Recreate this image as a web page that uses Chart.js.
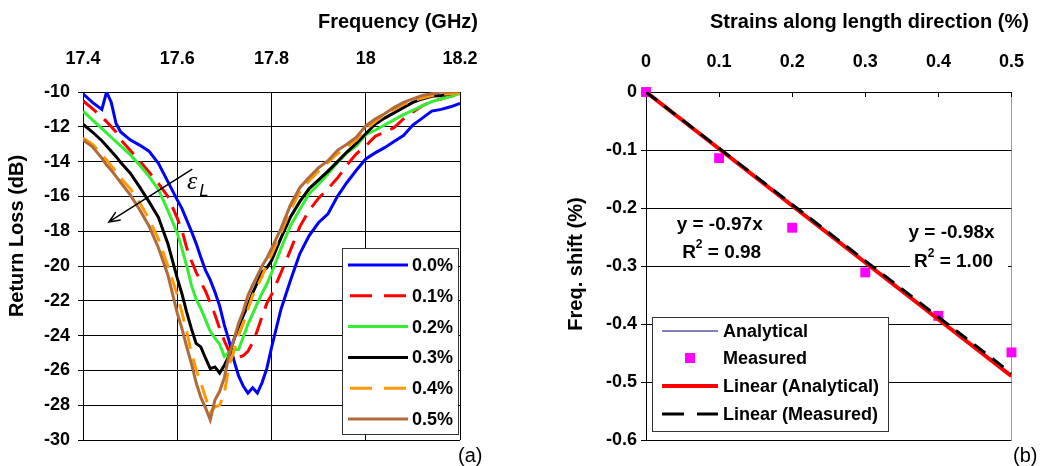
<!DOCTYPE html>
<html>
<head>
<meta charset="utf-8">
<script src="https://cdn.jsdelivr.net/npm/chart.js@4.4.0/dist/chart.umd.min.js"></script>
<style>
  body { margin: 0; background: #fff; }
  #wrap { position: relative; width: 1043px; height: 466px; }
  canvas { position: absolute; left: 0; top: 0; }
</style>
</head>
<body>
<div id="wrap">
  <canvas id="lossChart" width="1043" height="466"></canvas>
  <canvas id="shiftChart" width="1043" height="466"></canvas>
</div>
<script>
// ---- (a) return loss vs frequency ----
const freq = [17.40, 17.42, 17.44, 17.45, 17.46, 17.47, 17.48,
  17.50, 17.52, 17.54, 17.56, 17.58,
  17.60, 17.61, 17.62, 17.63, 17.64, 17.65, 17.66, 17.67, 17.68, 17.69, 17.70,
  17.71, 17.72, 17.73, 17.74, 17.75, 17.76, 17.77, 17.78, 17.79, 17.80,
  17.82, 17.84, 17.86, 17.88, 17.90, 17.92, 17.94, 17.96, 17.98, 18.00,
  18.02, 18.04, 18.06, 18.08, 18.10, 18.12, 18.14, 18.16, 18.18, 18.20];
const freqTicks = [17.4, 17.6, 17.8, 18, 18.2];
const lossTicks = [-30, -28, -26, -24, -22, -20, -18, -16, -14, -12, -10];
const strainLabels = ['0.0%', '0.1%', '0.2%', '0.3%', '0.4%', '0.5%'];

const loss00 = [-10.1, -10.6, -11.0, -10.0, -10.6, -11.8, -12.3,
  -12.75, -13.05, -13.4, -14.1, -15.15,
  -16.2, -16.7, -17.35, -18.0, -18.7, -19.5, -20.25, -20.8, -21.5, -22.3, -23.4,
  -24.3, -25.4, -26.3, -26.9, -27.3, -27.0, -27.3, -26.7, -25.9, -24.7,
  -22.5, -20.85, -19.3, -18.25, -17.5, -17.0, -16.0, -15.2, -14.5, -13.85,
  -13.5, -13.2, -12.85, -12.5, -11.9, -11.5, -11.1, -11.0, -10.85, -10.65];
const loss01 = [-10.5, -10.95, -11.45, -11.7, -12.0, -12.3, -12.75,
  -13.35, -13.95, -14.6, -15.25, -16.0,
  -17.25, -17.95, -18.95, -19.7, -20.35, -20.9, -21.45, -22.1, -22.8, -23.6, -24.3,
  -24.9, -25.15, -25.25, -25.15, -24.9, -24.4, -23.7, -22.9, -22.15, -21.65,
  -20.4, -19.1, -17.75, -16.8, -16.1, -15.55, -14.95, -14.2, -13.55, -13.1,
  -12.55, -12.3, -12.05, -11.55, -11.15, -10.8, -10.55, -10.4, -10.25, -10.15];
const loss02 = [-11.1, -11.6, -12.1, -12.35, -12.6, -12.85, -13.1,
  -13.6, -14.2, -14.85, -15.6, -16.8,
  -18.1, -19.0, -20.0, -21.1, -21.9, -22.45, -23.1, -23.75, -24.15, -24.5, -25.2,
  -24.95, -24.8, -24.8, -24.1, -23.35, -22.75, -22.15, -21.55, -21.05, -20.4,
  -19.0, -17.7, -16.75, -15.85, -15.3, -14.7, -14.05, -13.5, -13.1, -12.45,
  -12.2, -11.9, -11.6, -11.3, -11.05, -10.8, -10.55, -10.4, -10.25, -10.1];
const loss03 = [-11.85, -12.3, -12.8, -13.1, -13.4, -13.7, -14.05,
  -14.65, -15.45, -16.3, -17.2, -18.7,
  -20.7, -21.6, -22.65, -23.6, -24.45, -24.65, -25.3, -25.9, -25.8, -26.15, -25.7,
  -25.15, -24.25, -23.5, -22.85, -22.25, -21.55, -20.95, -20.35, -20.1, -19.7,
  -18.4, -17.2, -16.3, -15.55, -15.05, -14.55, -14.0, -13.45, -12.95, -12.4,
  -11.85, -11.5, -11.2, -10.9, -10.6, -10.4, -10.25, -10.2, -10.1, -10.0];
const loss04 = [-12.65, -13.0, -13.6, -13.9, -14.25, -14.55, -14.95,
  -15.55, -16.35, -17.3, -18.45, -20.0,
  -21.65, -22.7, -23.75, -25.0, -25.95, -26.7, -27.55, -28.4, -28.1, -28.0, -27.3,
  -25.75, -24.9, -24.0, -23.3, -22.5, -21.7, -21.15, -20.6, -19.9, -19.35,
  -18.1, -16.8, -15.75, -15.1, -14.55, -14.05, -13.55, -13.15, -12.75, -12.15,
  -11.7, -11.3, -11.0, -10.7, -10.5, -10.35, -10.2, -10.15, -10.1, -10.05];
const loss05 = [-12.75, -13.15, -13.8, -14.2, -14.5, -14.85, -15.2,
  -15.9, -16.75, -17.7, -18.95, -20.5,
  -22.7, -23.6, -24.65, -25.6, -26.7, -27.55, -28.15, -28.85, -27.7, -27.2, -26.4,
  -25.1, -24.25, -23.3, -22.6, -21.7, -21.1, -20.55, -20.0, -19.55, -19.0,
  -17.85, -16.5, -15.5, -14.9, -14.35, -13.95, -13.35, -13.0, -12.6, -11.95,
  -11.55, -11.25, -10.9, -10.6, -10.4, -10.2, -10.1, -10.0, -10.0, -9.95];

// ---- (b) frequency shift vs strain ----
const strain = [0, 0.1, 0.2, 0.3, 0.4, 0.5];
const strainTicks = [0, 0.1, 0.2, 0.3, 0.4, 0.5];
const shiftTicks = [-0.6, -0.5, -0.4, -0.3, -0.2, -0.1, 0];
const analytical = [0, -0.098, -0.196, -0.294, -0.392, -0.49];
const measured = [0, -0.114, -0.234, -0.311, -0.386, -0.449];
const trendX = [0, 0.5];
const trendAnalytical = [0, -0.49];
const trendMeasured = [0, -0.485];

const FONT = "'Liberation Sans', Arial, Helvetica, sans-serif";
const tickFont = { family: FONT, size: 18, weight: 'bold' };
const lossColors = ['#0000ff', '#ff0000', '#33ee33', '#000000', '#ff9900', '#b06a3b'];
const lossDashes = [[], [18, 10], [], [], [18, 10], []];

Chart.defaults.font.family = FONT;
Chart.defaults.color = '#000';

function pairs(xs, ys) {
  return xs.map((x, i) => ({ x: x, y: ys[i] }));
}

function setTicks(values) {
  return scale => { scale.ticks = values.map(v => ({ value: v })); };
}

function rotatedText(ctx, text, x, y) {
  ctx.save();
  ctx.translate(x, y);
  ctx.rotate(-Math.PI / 2);
  ctx.textAlign = 'center';
  ctx.textBaseline = 'middle';
  ctx.fillText(text, 0, 0);
  ctx.restore();
}

// "R" + superscript 2 + rest, centred on cx
function r2Text(ctx, rest, cx, y) {
  const big = 'bold 19px ' + FONT, small = 'bold 12px ' + FONT;
  ctx.font = big;
  const wR = ctx.measureText('R').width, wRest = ctx.measureText(rest).width;
  ctx.font = small;
  const w2 = ctx.measureText('2').width;
  let x = cx - (wR + w2 + wRest) / 2;
  ctx.textAlign = 'left';
  ctx.textBaseline = 'middle';
  ctx.font = big;
  ctx.fillText('R', x, y);
  ctx.font = small;
  ctx.fillText('2', x + wR, y - 8);
  ctx.font = big;
  ctx.fillText(rest, x + wR + w2, y);
}

const lossDecor = {
  id: 'lossDecor',
  afterDraw(chart) {
    const ctx = chart.ctx;
    const xs = chart.scales.x, ys = chart.scales.y;
    ctx.save();
    ctx.fillStyle = '#000';

    // titles
    ctx.font = 'bold 20px ' + FONT;
    ctx.textAlign = 'left';
    ctx.textBaseline = 'alphabetic';
    ctx.fillText('Frequency (GHz)', 318, 28);
    rotatedText(ctx, 'Return Loss (dB)', 17, 236);

    ctx.font = '20px ' + FONT;
    ctx.fillText('(a)', 458, 462);

    // strain arrow
    const x0 = xs.getPixelForValue(17.632), y0 = ys.getPixelForValue(-14.43);
    const x1 = xs.getPixelForValue(17.455), y1 = ys.getPixelForValue(-17.47);
    const ang = Math.atan2(y1 - y0, x1 - x0);
    ctx.strokeStyle = '#000';
    ctx.lineWidth = 1.5;
    ctx.beginPath();
    ctx.moveTo(x0, y0);
    ctx.lineTo(x1, y1);
    ctx.moveTo(x1 - 12 * Math.cos(ang - 0.4), y1 - 12 * Math.sin(ang - 0.4));
    ctx.lineTo(x1, y1);
    ctx.lineTo(x1 - 12 * Math.cos(ang + 0.4), y1 - 12 * Math.sin(ang + 0.4));
    ctx.stroke();
    ctx.font = 'italic 26px "Liberation Serif", serif';
    ctx.fillText('\u03b5', xs.getPixelForValue(17.6206), ys.getPixelForValue(-15.6));
    ctx.font = 'italic 17px ' + FONT;
    ctx.fillText('L', xs.getPixelForValue(17.6468), ys.getPixelForValue(-16.0));

    // legend
    const bx = 342, by = 248, bw = 116, bh = 186;
    ctx.fillStyle = '#fff';
    ctx.fillRect(bx, by, bw, bh);
    ctx.strokeStyle = '#333';
    ctx.lineWidth = 1;
    ctx.strokeRect(bx + 0.5, by + 0.5, bw, bh);
    ctx.font = 'bold 18px ' + FONT;
    ctx.textBaseline = 'middle';
    chart.data.datasets.forEach((ds, i) => {
      const y = by + 17 + i * 30.8;
      ctx.strokeStyle = ds.borderColor;
      ctx.lineWidth = ds.borderWidth;
      ctx.setLineDash(ds.borderDash.length ? [22, 12] : []);
      ctx.beginPath();
      ctx.moveTo(bx + 6 + (ds.borderDash.length ? 2 : 0), y);
      ctx.lineTo(bx + 66, y);
      ctx.stroke();
      ctx.setLineDash([]);
      ctx.fillStyle = '#000';
      ctx.fillText(ds.label, bx + 70, y + 1);
    });
    ctx.restore();
  }
};

new Chart(document.getElementById('lossChart'), {
  type: 'line',
  data: {
    datasets: [loss00, loss01, loss02, loss03, loss04, loss05].map((s, i) => ({
      label: strainLabels[i],
      data: pairs(freq, s),
      borderColor: lossColors[i],
      borderWidth: 3,
      borderDash: lossDashes[i],
      pointRadius: 0,
      tension: 0,
      order: 5 - i
    }))
  },
  options: {
    responsive: false,
    animation: false,
    devicePixelRatio: 1,
    events: [],
    layout: { padding: { left: 0, top: 0, right: 583, bottom: 26 } },
    plugins: { legend: { display: false }, tooltip: { enabled: false } },
    scales: {
      x: {
        type: 'linear',
        position: 'top',
        min: 17.4,
        max: 18.2,
        afterBuildTicks: setTicks(freqTicks),
        afterFit: s => { s.height = 92; },
        grid: { color: '#000', lineWidth: 1, drawTicks: false },
        border: { color: '#000', width: 1 },
        ticks: { font: tickFont, padding: 22, maxRotation: 0, autoSkip: false, callback: v => String(v) }
      },
      y: {
        type: 'linear',
        min: -30,
        max: -10,
        afterBuildTicks: setTicks(lossTicks),
        afterFit: s => { s.width = 83; },
        grid: { color: '#000', lineWidth: 1, tickLength: 5 },
        border: { color: '#000', width: 1 },
        ticks: { font: tickFont, padding: 8, autoSkip: false, callback: v => String(v) }
      }
    }
  },
  plugins: [lossDecor]
});

const shiftDecor = {
  id: 'shiftDecor',
  afterDraw(chart) {
    const ctx = chart.ctx;
    const xs = chart.scales.x, ys = chart.scales.y;
    const area = chart.chartArea;
    ctx.save();
    ctx.fillStyle = '#000';

    // small ticks pointing down from the top axis
    ctx.strokeStyle = '#000';
    ctx.lineWidth = 1;
    ctx.beginPath();
    strainTicks.slice(1).forEach(v => {
      const px = Math.round(xs.getPixelForValue(v)) + 0.5;
      ctx.moveTo(px, area.top);
      ctx.lineTo(px, area.top + 5);
    });
    ctx.stroke();

    // titles
    ctx.font = 'bold 20px ' + FONT;
    ctx.textAlign = 'left';
    ctx.textBaseline = 'alphabetic';
    ctx.fillText('Strains along length direction (%)', 710, 28);
    rotatedText(ctx, 'Freq. shift (%)', 576, 264);
    ctx.font = '20px ' + FONT;
    ctx.fillText('(b)', 1013, 462);

    // trend line equations
    ctx.textAlign = 'center';
    ctx.textBaseline = 'middle';
    ctx.font = 'bold 19px ' + FONT;
    ctx.fillText('y = -0.97x', xs.getPixelForValue(0.1008), ys.getPixelForValue(-0.2293));
    r2Text(ctx, ' = 0.98', xs.getPixelForValue(0.1035), ys.getPixelForValue(-0.2776));
    ctx.fillStyle = '#fff';
    ctx.fillRect(910, 219, 98, 56);
    ctx.fillStyle = '#000';
    ctx.textAlign = 'center';
    ctx.font = 'bold 19px ' + FONT;
    ctx.fillText('y = -0.98x', xs.getPixelForValue(0.418), ys.getPixelForValue(-0.2431));
    r2Text(ctx, ' = 1.00', xs.getPixelForValue(0.4207), ys.getPixelForValue(-0.2931));

    // legend
    const bx = 652, by = 317, bw = 236, bh = 114;
    ctx.fillStyle = '#fff';
    ctx.fillRect(bx, by, bw, bh);
    ctx.strokeStyle = '#333';
    ctx.lineWidth = 1;
    ctx.strokeRect(bx + 0.5, by + 0.5, bw, bh);
    ctx.font = 'bold 18px ' + FONT;
    ctx.textAlign = 'left';
    ctx.textBaseline = 'middle';
    const rows = [14, 41, 69, 97];
    chart.data.datasets.forEach((ds, i) => {
      const y = by + rows[i];
      if (ds.showLine === false) {
        ctx.fillStyle = ds.backgroundColor;
        ctx.fillRect(bx + 33, y - 5, 10, 10);
      } else {
        ctx.strokeStyle = ds.borderColor;
        ctx.lineWidth = ds.borderWidth;
        ctx.setLineDash(ds.borderDash ? [22, 13] : []);
        ctx.beginPath();
        ctx.moveTo(bx + 10, y);
        ctx.lineTo(bx + 66, y);
        ctx.stroke();
        ctx.setLineDash([]);
      }
      ctx.fillStyle = '#000';
      ctx.fillText(ds.label, bx + 71, y + 1);
    });
    ctx.restore();
  }
};

new Chart(document.getElementById('shiftChart'), {
  type: 'line',
  data: {
    datasets: [
      { label: 'Analytical', data: pairs(strain, analytical), borderColor: '#000080', borderWidth: 1, pointRadius: 0, order: 2 },
      { label: 'Measured', data: pairs(strain, measured), showLine: false, pointStyle: 'rect', pointRadius: 7, backgroundColor: '#ff00ff', borderColor: '#ff00ff', borderWidth: 0, order: 3, clip: false },
      { label: 'Linear (Analytical)', data: pairs(trendX, trendAnalytical), borderColor: '#ff0000', borderWidth: 4, pointRadius: 0, order: 1 },
      { label: 'Linear (Measured)', data: pairs(trendX, trendMeasured), borderColor: '#000000', borderWidth: 3, borderDash: [14, 9], pointRadius: 0, order: 0 }
    ]
  },
  options: {
    responsive: false,
    animation: false,
    devicePixelRatio: 1,
    events: [],
    layout: { padding: { left: 586, top: 0, right: 25, bottom: 26 } },
    plugins: { legend: { display: false }, tooltip: { enabled: false } },
    scales: {
      x: {
        type: 'linear',
        position: 'top',
        min: 0,
        max: 0.5,
        afterBuildTicks: setTicks(strainTicks),
        afterFit: s => { s.height = 92; },
        grid: { color: ctx => ctx.tick && ctx.tick.value === 0.5 ? '#999' : 'rgba(0,0,0,0)', drawTicks: false },
        border: { color: '#000', width: 1 },
        ticks: { font: tickFont, padding: 19, maxRotation: 0, autoSkip: false, callback: v => String(v) }
      },
      y: {
        type: 'linear',
        min: -0.6,
        max: 0,
        afterBuildTicks: setTicks(shiftTicks),
        afterFit: s => { s.width = 60; },
        grid: { color: '#000', lineWidth: 1, tickLength: 5 },
        border: { color: '#000', width: 1 },
        ticks: { font: tickFont, padding: 4, autoSkip: false, callback: v => String(v) }
      }
    }
  },
  plugins: [shiftDecor]
});
</script>
</body>
</html>
